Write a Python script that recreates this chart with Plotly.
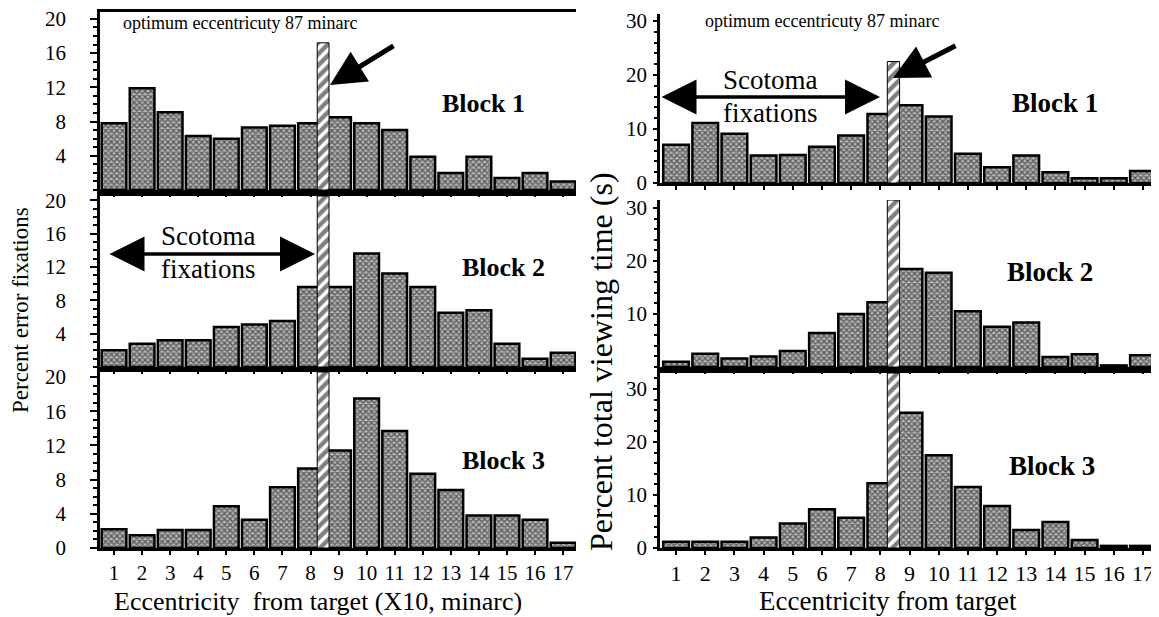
import plotly.graph_objects as go
from plotly.subplots import make_subplots

# ----------------------------------------------------------
# Data
# ----------------------------------------------------------

ECC = list(range(1, 18))
ECC_LABELS = [str(v) for v in ECC]

# Percent error fixations per eccentricity bin (X10 minarc)
ERR_BLOCK1 = [7.8, 11.9, 9.1, 6.3, 6.0, 7.3, 7.5, 7.8, 8.5, 7.8, 7.0, 3.9, 2.0, 3.9, 1.4, 2.0, 1.0]
ERR_BLOCK2 = [2.0, 2.8, 3.2, 3.2, 4.8, 5.1, 5.5, 9.6, 9.6, 13.6, 11.2, 9.6, 6.5, 6.8, 2.8, 1.0, 1.7]
ERR_BLOCK3 = [2.2, 1.5, 2.1, 2.1, 4.9, 3.3, 7.1, 9.3, 11.4, 17.5, 13.7, 8.7, 6.8, 3.8, 3.8, 3.3, 0.6]

# Percent total viewing time (s) per eccentricity bin
VIEW_BLOCK1 = [7.1, 11.1, 9.1, 5.1, 5.2, 6.7, 8.8, 12.8, 14.4, 12.3, 5.4, 2.9, 5.1, 2.0, 0.9, 0.9, 2.2]
VIEW_BLOCK2 = [1.0, 2.5, 1.6, 2.0, 3.0, 6.4, 10.0, 12.2, 18.5, 17.8, 10.5, 7.6, 8.4, 1.9, 2.4, 0.3, 2.2]
VIEW_BLOCK3 = [1.2, 1.2, 1.2, 2.0, 4.6, 7.3, 5.7, 12.2, 25.5, 17.5, 11.5, 7.9, 3.4, 4.9, 1.5, 0.4, 0.4]

ERR_TICKS = [4, 8, 12, 16, 20]
ERR_TICKS_BOTTOM = [0, 4, 8, 12, 16, 20]
VIEW_TICKS = [0, 10, 20, 30]
VIEW_TICKS_MID = [10, 20, 30]

OPTIMUM = 8.45  # optimum eccentricity (87 minarc) in bin units

# ----------------------------------------------------------
# Layout helpers (window pixel -> paper)
# the page body has an 8px margin, so the figure is shifted by that
# ----------------------------------------------------------

W, H = 1159, 617
OFF = 8
FW, FH = W - OFF, H - OFF
FONT = "Liberation Serif, Times New Roman, serif"


def px(x):
    return (x - OFF) / FW


def py(y):
    return 1 - (y - OFF) / FH


LEFT_X = [px(100), px(576)]
RIGHT_X = [px(660), 1.0]
LEFT_Y = [(12, 190), (196, 367), (372, 548)]
RIGHT_Y = [(14, 183), (200, 367), (373, 548)]

fig = make_subplots(rows=3, cols=2)

bar_marker = dict(
    color="#8c8c8c",
    line=dict(color="black", width=2.5),
    pattern=dict(shape="x", fgcolor="#000000", bgcolor="#b4b4b4", size=4, solidity=0.55),
)
hatch_marker = dict(
    color="white",
    line=dict(color="black", width=1),
    pattern=dict(shape="/", fgcolor="black", bgcolor="white", size=8, solidity=0.55),
)

panels = [
    # (values, row, col, y-range top, ticks, hatch top, top frame line)
    (ERR_BLOCK1, 1, 1, 20.8, ERR_TICKS, 17.2, True),
    (ERR_BLOCK2, 2, 1, 20.5, ERR_TICKS, 20.5, True),
    (ERR_BLOCK3, 3, 1, 20.6, ERR_TICKS_BOTTOM, 20.6, True),
    (VIEW_BLOCK1, 1, 2, 31.3, VIEW_TICKS, 22.5, False),
    (VIEW_BLOCK2, 2, 2, 31.5, VIEW_TICKS_MID, 31.5, False),
    (VIEW_BLOCK3, 3, 2, 33.0, VIEW_TICKS, 33.0, True),
]

for vals, r, c, ytop, yticks, htop, mirror in panels:

    fig.add_trace(
        go.Bar(x=ECC, y=vals, width=0.88, marker=bar_marker,
               showlegend=False, hoverinfo="x+y"),
        row=r, col=c,
    )

    fig.add_trace(
        go.Bar(x=[OPTIMUM], y=[htop], width=0.42, marker=hatch_marker,
               showlegend=False, hoverinfo="skip"),
        row=r, col=c,
    )

    left = c == 1
    ydom = (LEFT_Y if left else RIGHT_Y)[r - 1]

    fig.update_xaxes(
        domain=LEFT_X if left else RIGHT_X,
        range=[0.5, 17.46] if left else [0.45, 17.55],
        tickvals=ECC,
        ticktext=ECC_LABELS,
        showticklabels=(r == 3),
        ticks="outside",
        ticklen=4,
        tickwidth=2,
        tickcolor="black",
        showline=True,
        linewidth=3,
        linecolor="black",
        mirror=mirror,
        showgrid=False,
        zeroline=False,
        automargin=False,
        tickfont=dict(family=FONT, size=21 if left else 22, color="black"),
        row=r, col=c,
    )

    fig.update_yaxes(
        domain=[py(ydom[1]), py(ydom[0])],
        range=[0, ytop],
        tickvals=yticks,
        ticks="outside",
        ticklen=7 if left else 4,
        tickwidth=2,
        tickcolor="black",
        minor=dict(dtick=1 if left else 2, ticks="outside", ticklen=4 if left else 3,
                   tickwidth=1.5, tickcolor="black"),
        ticklabelstandoff=20 if left else 2,
        ticklabeloverflow="allow",
        showline=True,
        linewidth=2.5,
        linecolor="black",
        showgrid=False,
        zeroline=False,
        automargin=False,
        tickfont=dict(family=FONT, size=21, color="black"),
        row=r, col=c,
    )


# ----------------------------------------------------------
# Annotations
# ----------------------------------------------------------

def label(text, x, y, size, bold=False, angle=0):
    return dict(
        text=f"<b>{text}</b>" if bold else text,
        x=px(x), y=py(y), xref="paper", yref="paper",
        showarrow=False, textangle=angle,
        xanchor="center", yanchor="middle",
        font=dict(family=FONT, size=size, color="black"),
    )


def arrow(x_head, y_head, x_tail, y_tail, both=False, width=4, size=1.3):
    a = dict(
        text="", x=px(x_head), y=py(y_head), xref="paper", yref="paper",
        ax=x_tail - x_head, ay=y_tail - y_head,
        showarrow=True, arrowhead=2, arrowsize=size, arrowwidth=width,
        arrowcolor="black", standoff=0, startstandoff=0,
    )
    if both:
        a.update(arrowside="end+start", startarrowhead=2, startarrowsize=size)
    return a


annotations = [
    label("optimum eccentricuty 87 minarc", 240, 23, 18),
    arrow(330, 85, 395, 45, width=5, size=1.4),
    label("Block 1", 483, 103, 26, bold=True),
    label("Scotoma", 208, 236, 27),
    label("fixations", 208, 269, 27),
    arrow(315, 254, 108, 254, both=True, width=3.5, size=2),
    label("Block 2", 503, 268, 26, bold=True),
    label("Block 3", 503, 460, 26, bold=True),
    label("Eccentricity&nbsp; from target (X10, minarc)", 318, 601, 26),
    label("Percent error fixations", 20, 310, 23, angle=-90),

    label("optimum eccentricuty 87 minarc", 822, 21, 18),
    arrow(893, 78, 957, 45, width=5, size=1.4),
    label("Block 1", 1055, 103, 27, bold=True),
    label("Scotoma", 770, 80, 27),
    label("fixations", 770, 113, 27),
    arrow(880, 97, 660, 97, both=True, width=3.5, size=2),
    label("Block 2", 1050, 272, 27, bold=True),
    label("Block 3", 1052, 466, 27, bold=True),
    label("Eccentricity from target", 888, 601, 27),
    label("Percent total viewing time (s)", 601, 362, 32, angle=-90),
]

fig.update_layout(
    width=FW,
    height=FH,
    margin=dict(l=0, r=0, t=0, b=0),
    paper_bgcolor="white",
    plot_bgcolor="white",
    barmode="overlay",
    showlegend=False,
    font=dict(family=FONT, color="black"),
    annotations=annotations,
)

fig.write_html("out.html")
